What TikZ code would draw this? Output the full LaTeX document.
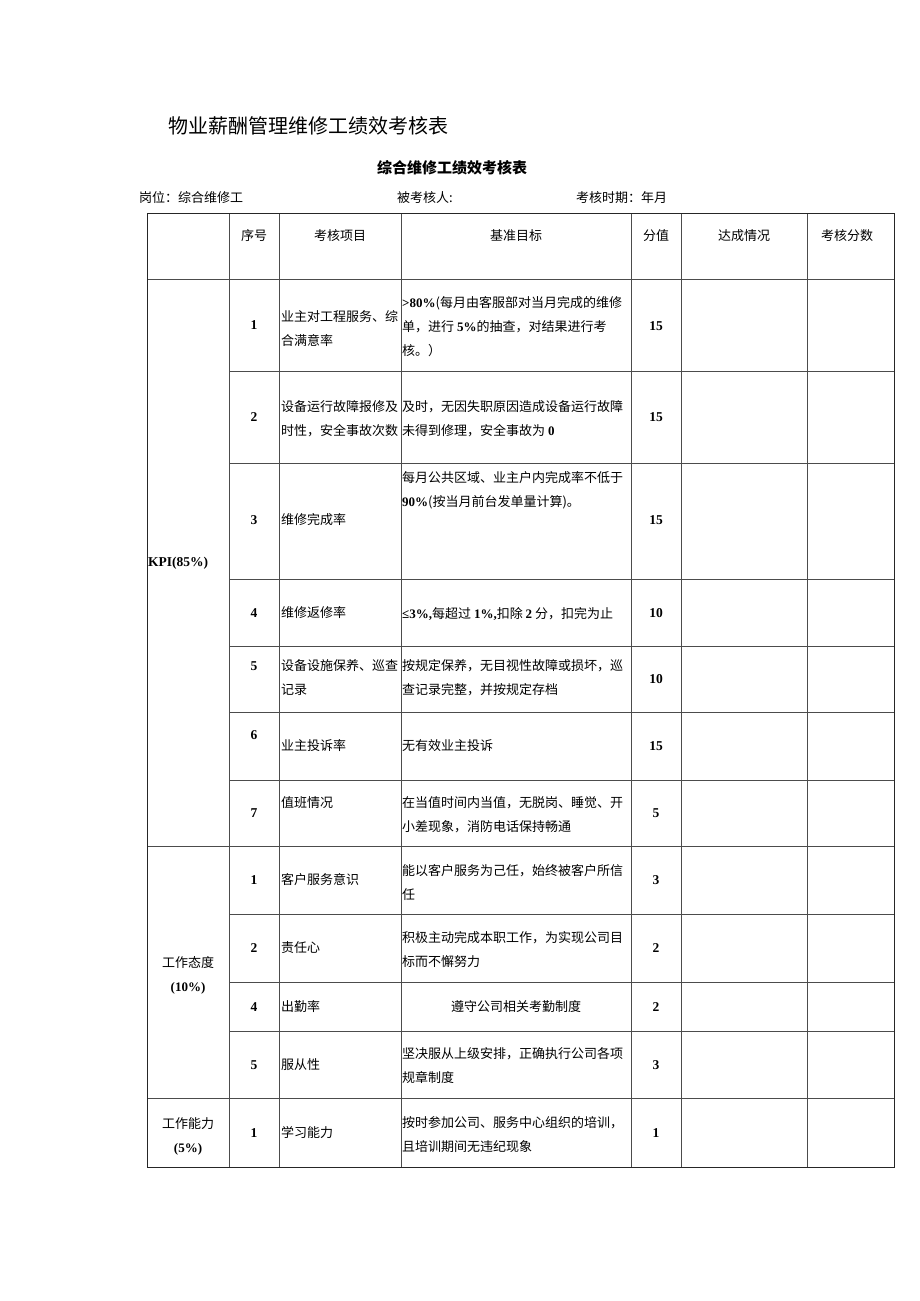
\documentclass[tikz,border=0pt]{standalone}
\usepackage{fontspec}
\setmainfont{Noto Sans CJK SC}
\newfontfamily\tnr{Liberation Serif}
\newcommand{\bnum}[1]{{\tnr\bfseries #1}}

\begin{document}
\begin{tikzpicture}[x=1pt,y=-1pt,
    grid/.style={line width=0.8pt,black!70},
    frame/.style={line width=1pt,black!85},
    cell/.style={inner sep=0pt,anchor=west,align=left,font=\fontsize{13}{24}\selectfont},
    mid/.style={inner sep=0pt,align=center,font=\fontsize{13}{24}\selectfont},
    num/.style={inner sep=0pt,font=\fontsize{13.5}{24}\tnr\bfseries}]
    \fill[white] (0,0) rectangle (920,1301);
    \useasboundingbox (0,0) rectangle (920,1301);
    % titles
    \node[inner sep=0pt,anchor=west,font=\fontsize{20}{24}\selectfont] (title) at (168,126) {物业薪酬管理维修工绩效考核表};
    \node[inner sep=0pt,font=\fontsize{15}{18}\selectfont\bfseries] (subtitle) at (452,168) {综合维修工绩效考核表};
    \node[cell] (post) at (139,198) {岗位：综合维修工};
    \node[cell] (person) at (397,198) {被考核人:};
    \node[cell] (period) at (576,198) {考核时期：年月};
    % table rules
    \foreach \x in {229,279,401,631,681,807}
    \draw[grid] (\x,213) -- (\x,1167);
    \foreach \y in {371,463,579,646,712,780,914,982,1031}
    \draw[grid] (229,\y) -- (894,\y);
    \foreach \y in {279,846,1098}
    \draw[grid] (147,\y) -- (894,\y);
    \draw[frame] (147,213) rectangle (894,1167);
    % header
    \foreach \t/\x [count=\i] in {序号/254,考核项目/340,基准目标/516,分值/656,达成情况/744,考核分数/847}
    \node[mid] (head\i) at (\x,236) {\t};
    % groups
    \node[inner sep=0pt,anchor=west,font=\fontsize{13.5}{24}\tnr\bfseries] (kpi) at (148,563) {KPI(85\%)};
    \node[mid] (attitude) at (188,975) {工作态度\\\bnum{(10\%)}};
    \node[mid] (ability) at (188,1136) {工作能力\\\bnum{(5\%)}};
    % numbers and scores
    \foreach \n/\yn/\s/\ys [count=\i] in {1/325/15/326,2/417/15/417,3/520/15/520,4/613/10/613,
        5/666/10/679,6/735/15/746,7/813/5/813,1/880/3/880,2/948/2/948,4/1007/2/1007,
        5/1065/3/1065,1/1133/1/1133}
    {
        \node[num] (no\i) at (254,\yn) {\n};
        \node[num] (score\i) at (656,\ys) {\s};
    }
    % items
    \node[cell] (item1) at (281,329) {业主对工程服务、综\\合满意率};
    \node[cell] (item2) at (281,419) {设备运行故障报修及\\时性，安全事故次数};
    \node[cell] (item3) at (281,520) {维修完成率};
    \node[cell] (item4) at (281,613) {维修返修率};
    \node[cell] (item5) at (281,678) {设备设施保养、巡查\\记录};
    \node[cell] (item6) at (281,746) {业主投诉率};
    \node[cell] (item7) at (281,803) {值班情况};
    \node[cell] (item8) at (281,880) {客户服务意识};
    \node[cell] (item9) at (281,948) {责任心};
    \node[cell] (item10) at (281,1007) {出勤率};
    \node[cell] (item11) at (281,1065) {服从性};
    \node[cell] (item12) at (281,1133) {学习能力};
    % targets
    \node[cell] (goal1) at (402,326.5) {\bnum{>80\%}(每月由客服部对当月完成的维修\\单，进行 \bnum{5\%}的抽查，对结果进行考\\核。）};
    \node[cell] (goal2) at (402,419) {及时，无因失职原因造成设备运行故障\\未得到修理，安全事故为 \bnum{0}};
    \node[cell] (goal3) at (402,490) {每月公共区域、业主户内完成率不低于\\\bnum{90\%}(按当月前台发单量计算)。};
    \node[cell] (goal4) at (402,614) {\bnum{≤3\%,}每超过 \bnum{1\%,}扣除 \bnum{2} 分，扣完为止};
    \node[cell] (goal5) at (402,678) {按规定保养，无目视性故障或损坏，巡\\查记录完整，并按规定存档};
    \node[cell] (goal6) at (402,746) {无有效业主投诉};
    \node[cell] (goal7) at (402,815) {在当值时间内当值，无脱岗、睡觉、开\\小差现象，消防电话保持畅通};
    \node[cell] (goal8) at (402,882) {能以客户服务为己任，始终被客户所信\\任};
    \node[cell] (goal9) at (402,949.5) {积极主动完成本职工作，为实现公司目\\标而不懈努力};
    \node[mid] (goal10) at (516,1007) {遵守公司相关考勤制度};
    \node[cell] (goal11) at (402,1065.5) {坚决服从上级安排，正确执行公司各项\\规章制度};
    \node[cell] (goal12) at (402,1135) {按时参加公司、服务中心组织的培训，\\且培训期间无违纪现象};
\end{tikzpicture}
\end{document}
